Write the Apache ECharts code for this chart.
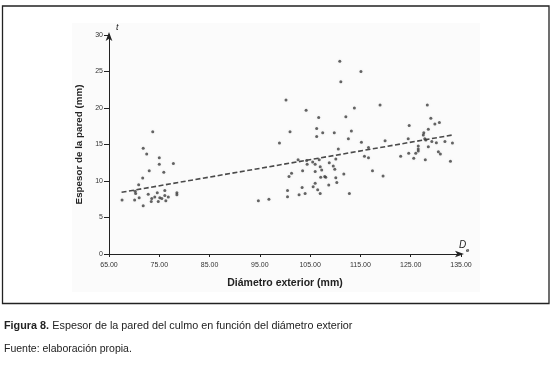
<!DOCTYPE html>
<html>
<head>
<meta charset="utf-8">
<script src="https://cdn.jsdelivr.net/npm/echarts/dist/echarts.min.js"></script>
<style>
html,body{margin:0;padding:0;background:#fff;}
#c{width:557px;height:370px;}
</style>
</head>
<body>
<div id="c"></div>
<script>
// Outer diameter De (mm) of each culm
const diameter = [
  73.7,71.8,72.5,75.0,75.0,77.8,73.0,75.9,71.7,70.9,67.6,70.2,70.3,71.0,70.1,72.8,73.5,71.8,73.4,74.1,74.6,75.1,75.5,74.8,76.1,76.1,76.3,76.8,78.5,78.5,
  94.7,96.8,98.9,100.2,101.0,100.5,100.5,100.8,101.3,102.6,102.8,103.4,103.5,104.0,104.2,104.4,104.3,105.5,106.8,105.6,106.0,106.0,106.0,106.3,106.3,106.5,106.7,107.0,107.0,107.1,107.3,107.5,107.9,108.1,108.7,108.8,109.6,109.8,109.9,110.1,110.1,110.3,110.6,110.9,111.1,111.7,112.1,112.6,112.8,113.2,113.8,115.1,115.2,115.8,116.6,116.6,117.4,118.9,119.5,119.9,
  123.0,124.5,124.6,124.7,125.6,126.0,126.5,126.5,126.5,127.5,127.6,127.8,127.9,128.0,128.3,128.5,128.5,129.0,129.2,129.8,130.1,130.5,130.7,130.9,131.8,132.9,133.3
];
// Wall thickness t (mm) of each culm
const thickness = [
  16.75,14.5,13.7,13.2,12.3,12.4,11.4,11.2,10.4,9.5,7.4,8.6,8.3,7.7,7.4,8.2,7.6,6.6,7.2,7.8,8.4,7.7,7.6,7.2,8.7,8.0,7.3,7.8,8.4,8.1,
  7.3,7.5,15.2,21.1,16.75,8.7,7.85,10.6,11.05,12.9,8.1,9.1,11.4,8.3,19.7,12.3,12.8,12.6,12.9,9.2,9.7,11.3,12.3,17.2,16.1,8.8,18.7,11.96,8.3,10.5,11.5,16.6,10.6,10.5,9.45,12.5,12.05,16.6,11.6,13.0,10.45,9.8,14.4,26.4,23.6,10.96,18.8,15.8,8.3,16.85,20.0,25.0,15.3,13.4,14.6,13.2,11.4,20.4,10.7,15.5,
  13.4,15.8,13.8,17.6,13.1,13.8,14.8,14.4,14.1,16.3,16.6,15.8,12.9,15.6,20.4,17.1,14.7,18.6,15.4,17.8,15.25,14.0,18.0,13.7,15.4,12.7,15.2
];
// Fitted trend line end points
const trendD = [67.5, 133.3];
const trendT = [8.45, 16.3];
// Tick labels
const xTicks = [65, 75, 85, 95, 105, 115, 125, 135];
const yTicks = [0, 5, 10, 15, 20, 25, 30];

const points = diameter.map((d, i) => [d, thickness[i]]);
const trend = trendD.map((d, i) => [d, trendT[i]]);

const FONT = '"Liberation Sans", Arial, sans-serif';
const chart = echarts.init(document.getElementById('c'), null, {renderer: 'canvas'});
chart.setOption({
  animation: false,
  backgroundColor: '#ffffff',
  grid: {left: 109, top: 35, right: 96, bottom: 116, containLabel: false},
  xAxis: {
    type: 'value', min: 65, max: 135,
    name: 'Diámetro exterior (mm)', nameLocation: 'middle', nameGap: 24,
    nameTextStyle: {fontFamily: FONT, fontSize: 10.5, fontWeight: 'bold', color: '#222'},
    axisLine: {lineStyle: {color: '#222', width: 1}, symbol: ['none', 'arrow'], symbolSize: [5, 9], symbolOffset: [0, 3]},
    axisTick: {show: true, length: 3, lineStyle: {color: '#222'}, customValues: xTicks},
    axisLabel: {customValues: xTicks, fontFamily: FONT, fontSize: 7, color: '#333', margin: 8,
      formatter: v => v.toFixed(2)},
    splitLine: {show: false}
  },
  yAxis: {
    type: 'value', min: 0, max: 30,
    name: 'Espesor de la pared (mm)', nameLocation: 'middle', nameGap: 19,
    nameTextStyle: {fontFamily: FONT, fontSize: 9.8, fontWeight: 'bold', color: '#222'},
    axisLine: {show: true, lineStyle: {color: '#222', width: 1}, symbol: ['none', 'arrow'], symbolSize: [5, 9], symbolOffset: [0, 3]},
    axisTick: {show: true, length: 5, lineStyle: {color: '#222'}, customValues: yTicks},
    axisLabel: {customValues: yTicks, fontFamily: FONT, fontSize: 7, color: '#333', margin: 6},
    splitLine: {show: false}
  },
  series: [
    {
      type: 'scatter', data: points, symbol: 'circle', symbolSize: 3,
      itemStyle: {color: '#3f3f3f', shadowColor: 'rgba(0,0,0,0.12)', shadowBlur: 3}, z: 3
    },
    {
      type: 'line', data: trend, symbol: 'none',
      lineStyle: {color: '#4a4a4a', width: 1.6, type: [5, 2.5]}, z: 2
    }
  ],
  graphic: [
    {type: 'rect', z: -20, silent: true, shape: {x: 72, y: 23, width: 408, height: 269}, style: {fill: '#fbfbfb'}},
    {type: 'rect', z: -10, silent: true, shape: {x: 2.5, y: 6, width: 546.5, height: 297.5}, style: {fill: 'none', stroke: '#222', lineWidth: 1.3}},
    {type: 'text', left: 116, top: 23, silent: true, style: {text: 't', font: 'italic 9px ' + FONT, fill: '#222'}},
    {type: 'text', left: 459, top: 240, silent: true, style: {text: 'D', font: 'italic 10px ' + FONT, fill: '#222'}},
    {type: 'text', left: 466, top: 247, silent: true, style: {text: 'e', font: 'bold 6px ' + FONT, fill: '#222'}},
    {type: 'text', left: 4, top: 320, silent: true, style: {
      text: '{b|Figura 8.} {n|Espesor de la pared del culmo en función del diámetro exterior}',
      rich: {b: {font: 'bold 10.8px ' + FONT, fill: '#222'}, n: {font: '10.8px ' + FONT, fill: '#222'}}
    }},
    {type: 'text', left: 4, top: 344, silent: true, style: {text: 'Fuente: elaboración propia.', font: '10.5px ' + FONT, fill: '#222'}}
  ]
});
</script>
</body>
</html>
